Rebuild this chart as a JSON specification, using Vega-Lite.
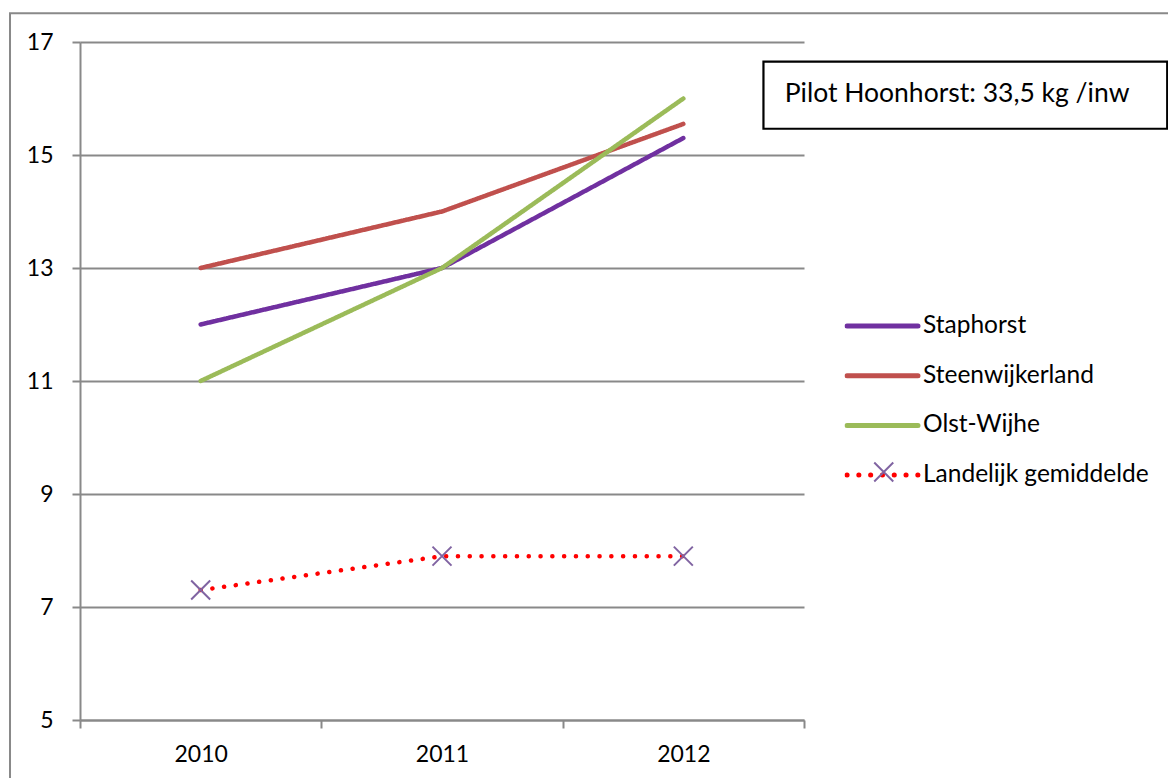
{
  "$schema": "https://vega.github.io/schema/vega-lite/v6.json",
  "width": 724,
  "height": 678,
  "autosize": "none",
  "padding": {"left": 80, "top": 42, "right": 364, "bottom": 58},
  "background": "white",
  "config": {
    "view": {"stroke": null},
    "font": "Lato",
    "axis": {
      "labelFont": "Lato",
      "labelFontSize": 23,
      "labelColor": "#000000",
      "domainColor": "#898989",
      "domainWidth": 2,
      "tickColor": "#898989",
      "tickWidth": 2,
      "tickSize": 8,
      "gridColor": "#898989",
      "gridWidth": 2,
      "title": null
    },
    "legend": {
      "labelFont": "Lato",
      "labelFontSize": 24.5,
      "labelColor": "#000000",
      "labelLimit": 400,
      "padding": 0
    }
  },
  "layer": [
    {
      "data": {"values": [{"label": "Pilot Hoonhorst: 33,5 kg /inw"}]},
      "layer": [
        {
          "mark": {"type": "rect", "fill": null, "fillOpacity": 0, "stroke": "#898989", "strokeWidth": 2},
          "encoding": {
            "x": {"datum": -0.29, "type": "quantitative", "scale": {"domain": [0, 3]}, "axis": null},
            "x2": {"datum": 5},
            "y": {"datum": 17.51, "type": "quantitative", "scale": {"domain": [5, 17]}, "axis": {"format": "d"}},
            "y2": {"datum": 0}
          }
        },
        {
          "mark": {"type": "rect", "fill": "white", "stroke": "#000000", "strokeWidth": 2.2},
          "encoding": {
            "x": {"datum": 2.832, "type": "quantitative", "scale": {"domain": [0, 3]}, "axis": null},
            "x2": {"datum": 4.505},
            "y": {"datum": 16.651, "type": "quantitative", "scale": {"domain": [5, 17]}, "axis": {"format": "d"}},
            "y2": {"datum": 15.465}
          }
        },
        {
          "mark": {"type": "text", "align": "left", "baseline": "alphabetic", "fontSize": 26.5, "font": "Lato", "color": "#000000"},
          "encoding": {
            "x": {"datum": 2.92, "type": "quantitative", "scale": {"domain": [0, 3]}, "axis": null},
            "y": {"datum": 15.943, "type": "quantitative", "scale": {"domain": [5, 17]}, "axis": {"format": "d"}},
            "text": {"field": "label"}
          }
        }
      ]
    },
    {
      "data": {
        "values": [
          {"year": "2010", "series": "Staphorst", "value": 12},
          {"year": "2011", "series": "Staphorst", "value": 13},
          {"year": "2012", "series": "Staphorst", "value": 15.3},
          {"year": "2010", "series": "Steenwijkerland", "value": 13},
          {"year": "2011", "series": "Steenwijkerland", "value": 14},
          {"year": "2012", "series": "Steenwijkerland", "value": 15.55},
          {"year": "2010", "series": "Olst-Wijhe", "value": 11},
          {"year": "2011", "series": "Olst-Wijhe", "value": 13},
          {"year": "2012", "series": "Olst-Wijhe", "value": 16},
          {"year": "2010", "series": "Landelijk gemiddelde", "value": 7.3},
          {"year": "2011", "series": "Landelijk gemiddelde", "value": 7.9},
          {"year": "2012", "series": "Landelijk gemiddelde", "value": 7.9}
        ]
      },
      "encoding": {
        "x": {
          "field": "year",
          "type": "ordinal",
          "scale": {"type": "band", "paddingInner": 0, "paddingOuter": 0},
          "axis": {"tickBand": "extent", "grid": false, "labelAngle": 0, "labelPadding": 15}
        },
        "y": {
          "field": "value",
          "type": "quantitative",
          "scale": {"domain": [5, 17], "nice": false, "zero": false},
          "axis": {"values": [5, 7, 9, 11, 13, 15, 17], "format": "d", "grid": true, "labelPadding": 19}
        }
      },
      "layer": [
        {
          "mark": {"type": "line", "strokeWidth": 4.5, "strokeCap": "round"},
          "encoding": {
            "color": {
              "field": "series",
              "type": "nominal",
              "sort": ["Staphorst", "Steenwijkerland", "Olst-Wijhe", "Landelijk gemiddelde"],
              "scale": {
                "domain": ["Staphorst", "Steenwijkerland", "Olst-Wijhe", "Landelijk gemiddelde"],
                "range": ["#7030A0", "#C0504D", "#9BBB59", "#FF0000"]
              },
              "legend": {
                "orient": "none",
                "legendX": 764.5,
                "legendY": 272,
                "title": null,
                "symbolType": "stroke",
                "symbolSize": 5041,
                "symbolStrokeWidth": 5,
                "clipHeight": 24,
                "rowPadding": 24.7,
                "labelOffset": 2.5,
                "encode": {"symbols": {"update": {"strokeCap": {"value": "round"}}}}
              }
            },
            "strokeDash": {
              "field": "series",
              "type": "nominal",
              "scale": {
                "domain": ["Staphorst", "Steenwijkerland", "Olst-Wijhe", "Landelijk gemiddelde"],
                "range": [[1, 0], [1, 0], [1, 0], [0.1, 11.7]]
              }
            }
          }
        },
        {
          "transform": [{"filter": "datum.series === 'Landelijk gemiddelde'"}],
          "mark": {"type": "point", "filled": false, "size": 361, "strokeWidth": 2, "color": "#8064A2", "opacity": 1},
          "encoding": {
            "shape": {
              "field": "series",
              "type": "nominal",
              "scale": {"domain": ["Landelijk gemiddelde"], "range": ["M-1,-1L1,1M-1,1L1,-1"]},
              "legend": {
                "orient": "none",
                "legendX": 791.5,
                "legendY": 418,
                "title": null,
                "symbolSize": 361,
                "symbolStrokeWidth": 2,
                "symbolStrokeColor": "#8064A2",
                "symbolFillColor": "transparent",
                "clipHeight": 24,
                "labelExpr": "''"
              }
            }
          }
        }
      ]
    }
  ],
  "resolve": {"scale": {"x": "independent"}}
}
